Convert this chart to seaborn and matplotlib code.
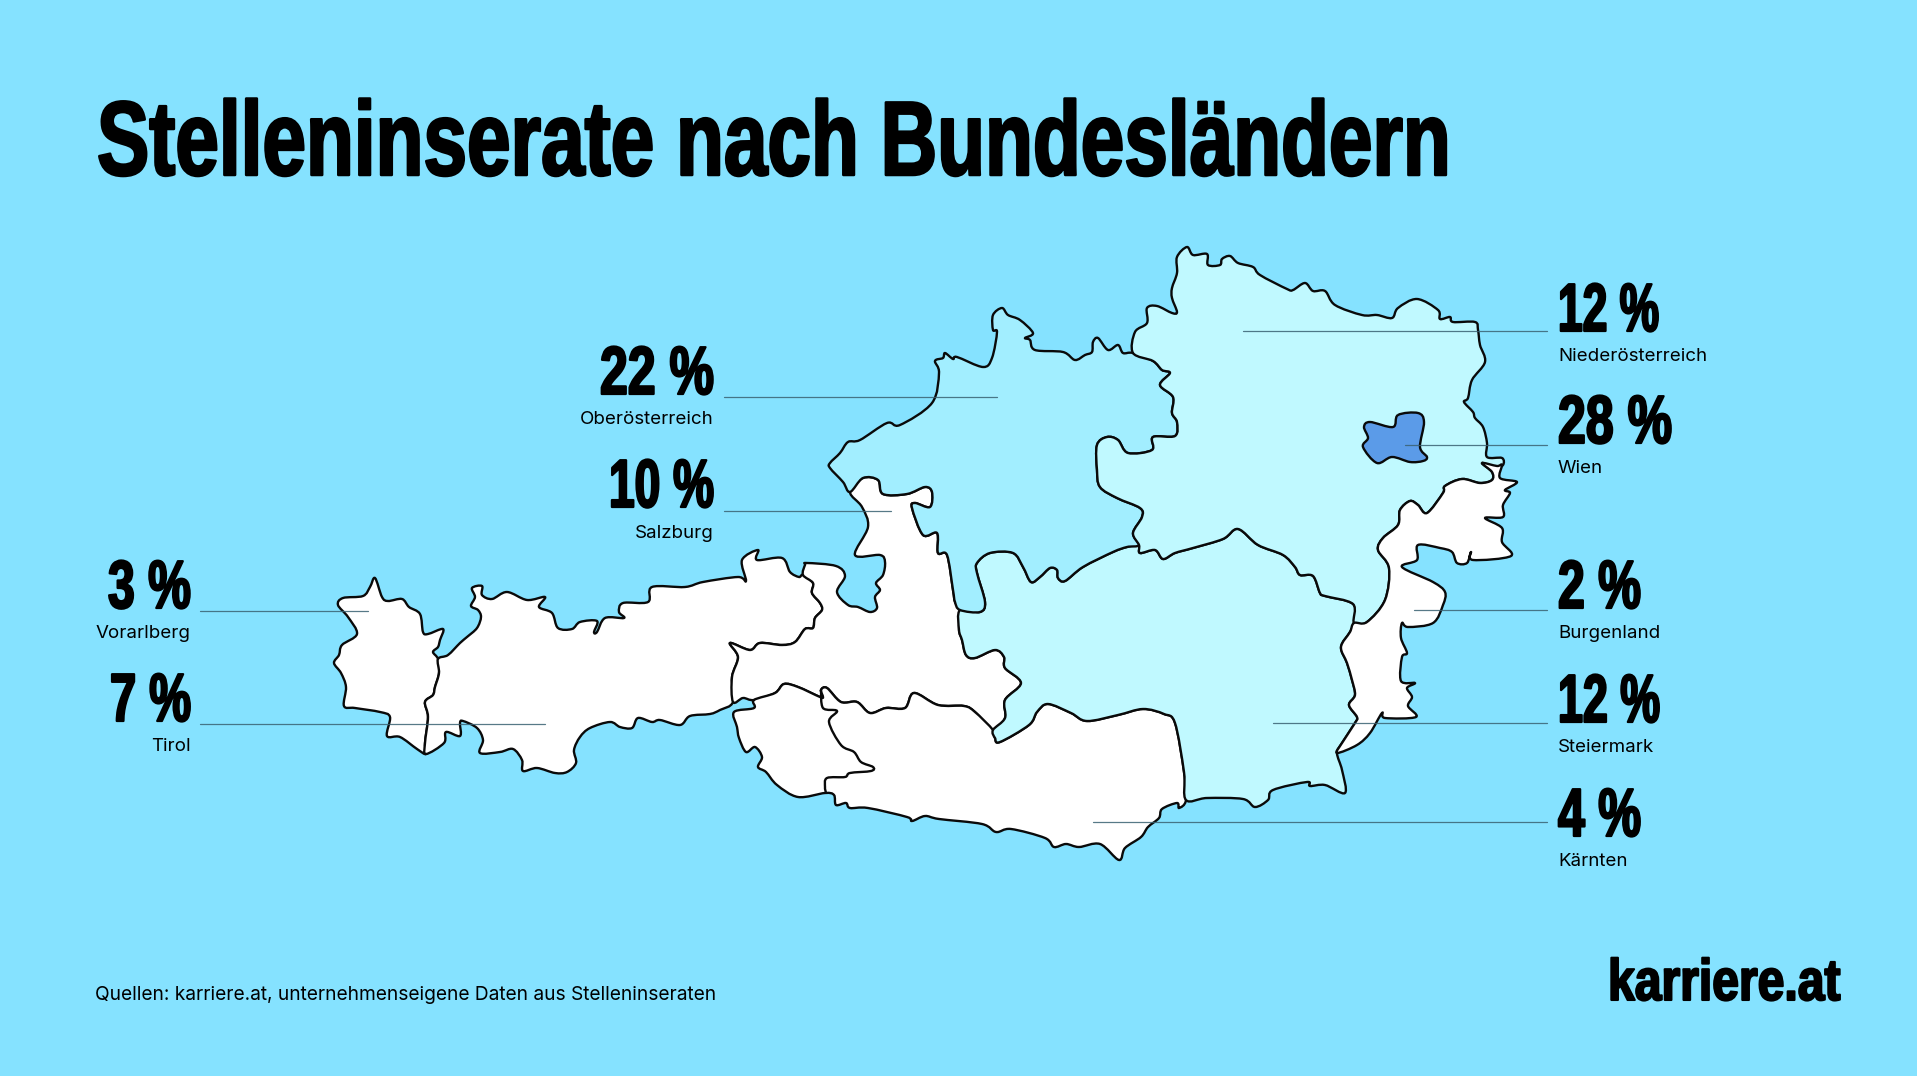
import matplotlib
matplotlib.use("Agg")
import matplotlib.pyplot as plt
import matplotlib.patheffects as pe
from matplotlib.patches import PathPatch
from matplotlib.path import Path
from matplotlib.transforms import Affine2D
import numpy as np
import pandas as pd
import seaborn as sns

# share of job ads per state
regions = ["Niederösterreich", "Wien", "Burgenland", "Steiermark", "Kärnten",
           "Oberösterreich", "Salzburg", "Vorarlberg", "Tirol"]
shares = [12, 28, 2, 12, 4, 22, 10, 3, 7]

# label layout: x anchor, value baseline, name baseline, value width, leader start, leader end, leader y
label_x = [1558, 1558, 1558, 1558, 1558, 714, 714, 191, 191]
value_y = [331, 443, 608, 722, 836, 394, 507, 608, 721]
name_y = [361, 473, 638, 752, 866, 424, 538, 638, 751]
value_w = [101, 114, 83, 102, 83, 114, 105, 83, 81]
leader_x0 = [1243, 1405, 1414, 1273, 1093, 724, 724, 200, 200]
leader_x1 = [1547, 1547, 1547, 1547, 1547, 997, 891, 368, 545]
leader_y = [331, 445, 610, 723, 822, 397, 511, 611, 724]

# traced state borders, in picture pixels
vor_tir = [(438, 659), (439, 673), (435, 687), (433, 695), (425, 702), (428, 717), (425, 743), (426, 754)]
vor_outer = [(426, 754), (417, 749), (400, 737), (387, 736), (390, 717), (380, 712), (355, 708), (344, 706),
             (346, 687), (341, 673), (334, 663), (339, 655), (342, 645), (357, 634), (348, 617), (338, 605),
             (343, 598), (363, 596), (370, 587), (375, 578), (382, 597), (388, 601), (402, 599), (409, 607),
             (420, 614), (423, 632), (428, 634), (443, 629), (440, 640), (438, 647), (433, 652), (438, 659)]
tir_north = [(438, 659), (448, 655), (460, 643), (467, 637), (477, 628), (481, 617), (478, 610), (471, 606),
             (475, 597), (472, 588), (482, 586), (482, 595), (492, 599), (507, 592), (527, 600), (545, 597),
             (539, 607), (552, 613), (558, 628), (572, 629), (580, 622), (597, 621), (594, 632), (597, 632),
             (605, 618), (624, 618), (619, 612), (623, 603), (648, 602), (652, 587), (685, 587), (703, 582),
             (738, 577), (746, 581), (742, 560), (758, 550), (757, 560), (782, 558), (790, 572), (799, 577),
             (803, 575)]
tir_sbg = [(803, 575), (813, 583), (812, 593), (820, 603), (822, 610), (815, 618), (813, 628), (805, 629),
           (795, 642), (782, 645), (760, 643), (750, 650), (730, 643), (738, 657), (732, 677), (733, 702)]
tir_south = [(733, 702), (720, 710), (710, 714), (690, 716), (680, 725), (660, 720), (652, 722), (638, 718),
             (632, 728), (620, 727), (610, 722), (590, 728), (580, 737), (574, 750), (576, 763), (567, 772),
             (555, 773), (537, 768), (523, 771), (522, 760), (513, 749), (500, 752), (480, 753), (483, 740),
             (477, 728), (463, 721), (460, 723), (460, 736), (446, 732), (444, 743), (426, 754)]
sbg_north = [(803, 575), (805, 565), (807, 563), (836, 566), (845, 576), (837, 592), (848, 605), (858, 607),
             (870, 612), (877, 608), (875, 597), (880, 590), (876, 583), (883, 575), (885, 562), (880, 555),
             (855, 555), (868, 527), (862, 507), (850, 492)]
sbg_ooe = [(850, 492), (863, 478), (878, 480), (883, 494), (907, 494), (925, 487), (932, 492), (930, 507),
           (915, 503), (912, 508), (923, 535), (937, 533), (938, 553), (947, 555), (953, 590), (955, 602),
           (960, 610)]
sbg_stm = [(960, 610), (959, 630), (962, 640), (966, 655), (975, 658), (995, 650), (1004, 657), (1005, 668),
           (1021, 683), (1005, 700), (1005, 718), (993, 730)]
sbg_ktn = [(993, 730), (975, 712), (964, 706), (938, 705), (914, 693), (905, 708), (886, 708), (870, 713),
           (857, 702), (841, 702), (827, 688), (821, 690), (823, 697), (820, 697), (798, 687), (784, 684),
           (775, 693), (754, 700)]
sbg_inlet = [(754, 700), (743, 698), (733, 702)]
ktn_south = [(754, 700), (754, 708), (734, 712), (737, 727), (739, 738), (746, 752), (755, 747), (762, 757),
             (758, 767), (766, 772), (777, 785), (798, 797), (825, 793), (834, 795), (836, 805), (846, 803),
             (850, 808), (868, 808), (907, 817), (912, 821), (925, 816), (939, 819), (982, 824), (996, 832),
             (1011, 829), (1045, 838), (1054, 847), (1066, 844), (1079, 847), (1100, 844), (1119, 860),
             (1125, 848), (1141, 837), (1148, 827), (1159, 818), (1162, 809), (1177, 803), (1179, 808), (1186, 800)]
ktn_stm = [(1186, 800), (1184, 772), (1175, 723), (1164, 714), (1143, 709), (1118, 715), (1087, 721), (1071, 713),
           (1048, 704), (1037, 712), (1029, 725), (1000, 742), (995, 738), (993, 730)]
east_tirol = [(821, 690), (823, 708), (837, 711), (829, 722), (841, 745), (854, 752), (861, 762), (873, 767),
              (871, 771), (850, 773), (845, 777), (827, 778), (825, 787), (826, 793)]
stm_south = [(1186, 800), (1207, 798), (1243, 799), (1255, 807), (1268, 800), (1273, 790), (1307, 782), (1310, 786),
             (1325, 785), (1345, 793), (1342, 770), (1337, 753)]
stm_bgl = [(1337, 753), (1342, 743), (1355, 723), (1357, 717), (1349, 705), (1355, 695), (1352, 680), (1347, 663),
           (1341, 647), (1350, 632), (1354, 623)]
stm_noe = [(1354, 623), (1353, 604), (1325, 596), (1320, 593), (1313, 576), (1300, 575), (1295, 567), (1283, 555),
           (1258, 545), (1238, 529), (1223, 539), (1193, 548), (1175, 553), (1163, 559), (1155, 550), (1140, 553),
           (1139, 545)]
ooe_stm = [(1139, 545), (1127, 547), (1113, 552), (1083, 567), (1065, 581), (1058, 578), (1057, 570), (1050, 568),
           (1040, 577), (1031, 582), (1023, 567), (1013, 553), (990, 553), (977, 563), (977, 573), (985, 602),
           (980, 612), (960, 610)]
noe_ooe = [(1133, 353), (1153, 361), (1162, 370), (1170, 373), (1160, 385), (1173, 397), (1172, 413), (1177, 422),
           (1175, 436), (1153, 437), (1152, 450), (1128, 453), (1118, 440), (1107, 437), (1097, 445), (1097, 470),
           (1100, 487), (1117, 498), (1140, 508), (1142, 517), (1133, 533), (1139, 545)]
ooe_north = [(850, 492), (843, 482), (830, 468), (830, 463), (840, 453), (848, 442), (860, 440), (887, 423),
             (900, 425), (932, 403), (939, 373), (935, 361), (943, 358), (945, 353), (953, 359), (957, 357),
             (983, 367), (992, 358), (997, 332), (993, 330), (993, 315), (1002, 308), (1008, 315), (1020, 320),
             (1033, 333), (1025, 338), (1030, 340), (1035, 350), (1063, 352), (1075, 360), (1085, 355), (1092, 352),
             (1093, 342), (1098, 338), (1108, 350), (1118, 345), (1123, 353), (1133, 353)]
noe_north = [(1133, 353), (1135, 332), (1147, 323), (1147, 308), (1157, 306), (1172, 313), (1177, 312), (1172, 298),
             (1172, 288), (1177, 273), (1177, 257), (1187, 247), (1193, 255), (1207, 254), (1208, 265), (1220, 265),
             (1222, 259), (1230, 256), (1238, 263), (1253, 267), (1260, 275), (1287, 289), (1293, 290), (1305, 283),
             (1313, 291), (1325, 291), (1335, 305), (1362, 315), (1377, 315), (1392, 318), (1398, 308), (1417, 299),
             (1438, 310), (1440, 319), (1450, 317), (1453, 322), (1475, 322), (1478, 330), (1480, 345), (1485, 362),
             (1472, 380), (1468, 398), (1464, 402), (1473, 412), (1475, 418), (1483, 427), (1487, 443), (1487, 457),
             (1502, 458), (1503, 465), (1495, 467), (1482, 463)]
noe_bgl = [(1482, 463), (1492, 472), (1492, 480), (1480, 483), (1462, 479), (1445, 486), (1443, 493), (1427, 513),
           (1418, 505), (1410, 501), (1400, 510), (1398, 525), (1383, 538), (1378, 550), (1389, 568), (1385, 600),
           (1367, 622), (1354, 623)]
bgl_east = [(1337, 753), (1357, 745), (1370, 733), (1382, 713), (1385, 718), (1416, 717), (1408, 706), (1412, 697),
            (1407, 688), (1415, 683), (1401, 681), (1402, 657), (1407, 653), (1401, 638), (1402, 623), (1408, 627),
            (1433, 623), (1443, 605), (1445, 592), (1433, 582), (1402, 567), (1417, 560), (1418, 545), (1440, 548),
            (1452, 552), (1457, 563), (1467, 563), (1471, 552), (1473, 560), (1511, 556), (1502, 542), (1502, 528),
            (1485, 518), (1503, 517), (1503, 505), (1510, 493), (1505, 490), (1517, 482), (1500, 478), (1502, 465),
            (1497, 466), (1482, 463)]
wien = [(1398, 415), (1418, 413), (1424, 422), (1420, 447), (1427, 457), (1423, 461), (1410, 462), (1392, 457),
        (1377, 463), (1363, 447), (1368, 438), (1364, 427), (1370, 422), (1393, 427)]

BG = "#85E2FF"
LIGHT = "#C0F9FF"
MID = "#A2EEFF"
BLUE = "#5B9BE8"
HEAVY = "Liberation Sans"
BODY = "Inter"


class Squeeze(pe.AbstractPathEffect):
    # no condensed font here, so narrow the glyphs about the text anchor and fatten them a bit
    def __init__(self, x0, sx, stroke):
        super().__init__()
        self.x0, self.sx, self.stroke = x0, sx, stroke

    def draw_path(self, renderer, gc, tpath, affine, rgbFace=None):
        narrow = affine + Affine2D().translate(-self.x0, 0).scale(self.sx, 1).translate(self.x0, 0)
        gc0 = renderer.new_gc()
        gc0.copy_properties(gc)
        gc0.set_linewidth(self.stroke)
        gc0.set_foreground("black")
        gc0.set_joinstyle("round")
        renderer.draw_path(gc0, tpath, narrow, rgbFace)
        gc0.restore()


def heavy_text(x, y, s, size, width, ha="left", stroke=1.6):
    t = ax.text(x, y, s, family=HEAVY, weight="bold", fontsize=size, ha=ha, va="baseline", color="black")
    full = t.get_window_extent(fig.canvas.get_renderer()).width
    x0 = ax.transData.transform((x, y))[0]
    t.set_path_effects([Squeeze(x0, width / full, stroke)])
    return t


def ring(*segments):
    # join border pieces into one closed outline
    pts = []
    for seg in segments:
        pts += seg if not pts else seg[1:]
    if pts[0] == pts[-1]:
        pts = pts[:-1]
    return np.array(pts, dtype=float)


def smooth_path(pts, closed=True):
    # bezier through the traced points so the borders look hand drawn
    n = len(pts)
    verts = [pts[0]]
    codes = [Path.MOVETO]
    for i in range(n if closed else n - 1):
        if closed:
            p0, p1, p2, p3 = pts[i - 1], pts[i], pts[(i + 1) % n], pts[(i + 2) % n]
        else:
            p0, p1, p2, p3 = pts[max(i - 1, 0)], pts[i], pts[i + 1], pts[min(i + 2, n - 1)]
        verts += [p1 + (p2 - p0) / 6, p2 - (p3 - p1) / 6, p2]
        codes += [Path.CURVE4] * 3
    return Path(verts, codes)


sns.set_theme(style="white")
plt.rcParams["font.family"] = [BODY, "DejaVu Sans"]

fig = plt.figure(figsize=(19.17, 10.76), dpi=100, facecolor=BG)
ax = fig.add_axes([0, 0, 1, 1], facecolor=BG)
ax.set_xlim(0, 1917)
ax.set_ylim(1076, 0)
ax.set_axis_off()

states = [
    (ring(vor_tir, vor_outer), "white"),
    (ring(tir_north, tir_sbg, tir_south, vor_tir[::-1]), "white"),
    (ring(sbg_north, sbg_ooe, sbg_stm, sbg_ktn, sbg_inlet, tir_sbg[::-1]), "white"),
    (ring(ktn_south, ktn_stm, sbg_ktn), "white"),
    (ring(sbg_stm, ktn_stm[::-1], stm_south, stm_bgl, stm_noe, ooe_stm), LIGHT),
    (ring(ooe_north, noe_ooe, ooe_stm, sbg_ooe[::-1]), MID),
    (ring(noe_north, noe_bgl, stm_noe, noe_ooe[::-1]), LIGHT),
    (ring(noe_bgl, stm_bgl[::-1], bgl_east), "white"),
    (np.array(wien, dtype=float), BLUE),
]
for pts, color in states:
    ax.add_patch(PathPatch(smooth_path(pts), facecolor=color, edgecolor="#0a0a0a", lw=1.7, joinstyle="round"))
ax.add_patch(PathPatch(smooth_path(np.array(east_tirol, dtype=float), closed=False), fill=False,
                       edgecolor="#0a0a0a", lw=1.7))

# thin leader lines from the labels into the states
leaders = pd.DataFrame({
    "region": regions * 2,
    "x": leader_x0 + leader_x1,
    "y": leader_y * 2,
})
sns.lineplot(data=leaders, x="x", y="y", units="region", estimator=None, color="#3a6272",
             alpha=0.85, lw=0.9, sort=False, legend=False, ax=ax)
ax.set_xlim(0, 1917)
ax.set_ylim(1076, 0)

for name, share, x, vy, ny, w in zip(regions, shares, label_x, value_y, name_y, value_w):
    ha = "left" if x > 1000 else "right"
    heavy_text(x, vy, f"{share} %", 49, w, ha=ha, stroke=1.6)
    ax.text(x, ny, name, fontsize=13.5, ha=ha, va="baseline", color="black")

heavy_text(97, 175, "Stelleninserate nach Bundesländern", 76, 1353, stroke=1.8)
ax.text(95, 1000, "Quellen: karriere.at, unternehmenseigene Daten aus Stelleninseraten", fontsize=13.8,
        ha="left", va="baseline", color="black")
heavy_text(1841, 1000, "karriere.at", 42, 233, ha="right", stroke=1.5)

fig.savefig("out.png", dpi=100, facecolor=BG)
